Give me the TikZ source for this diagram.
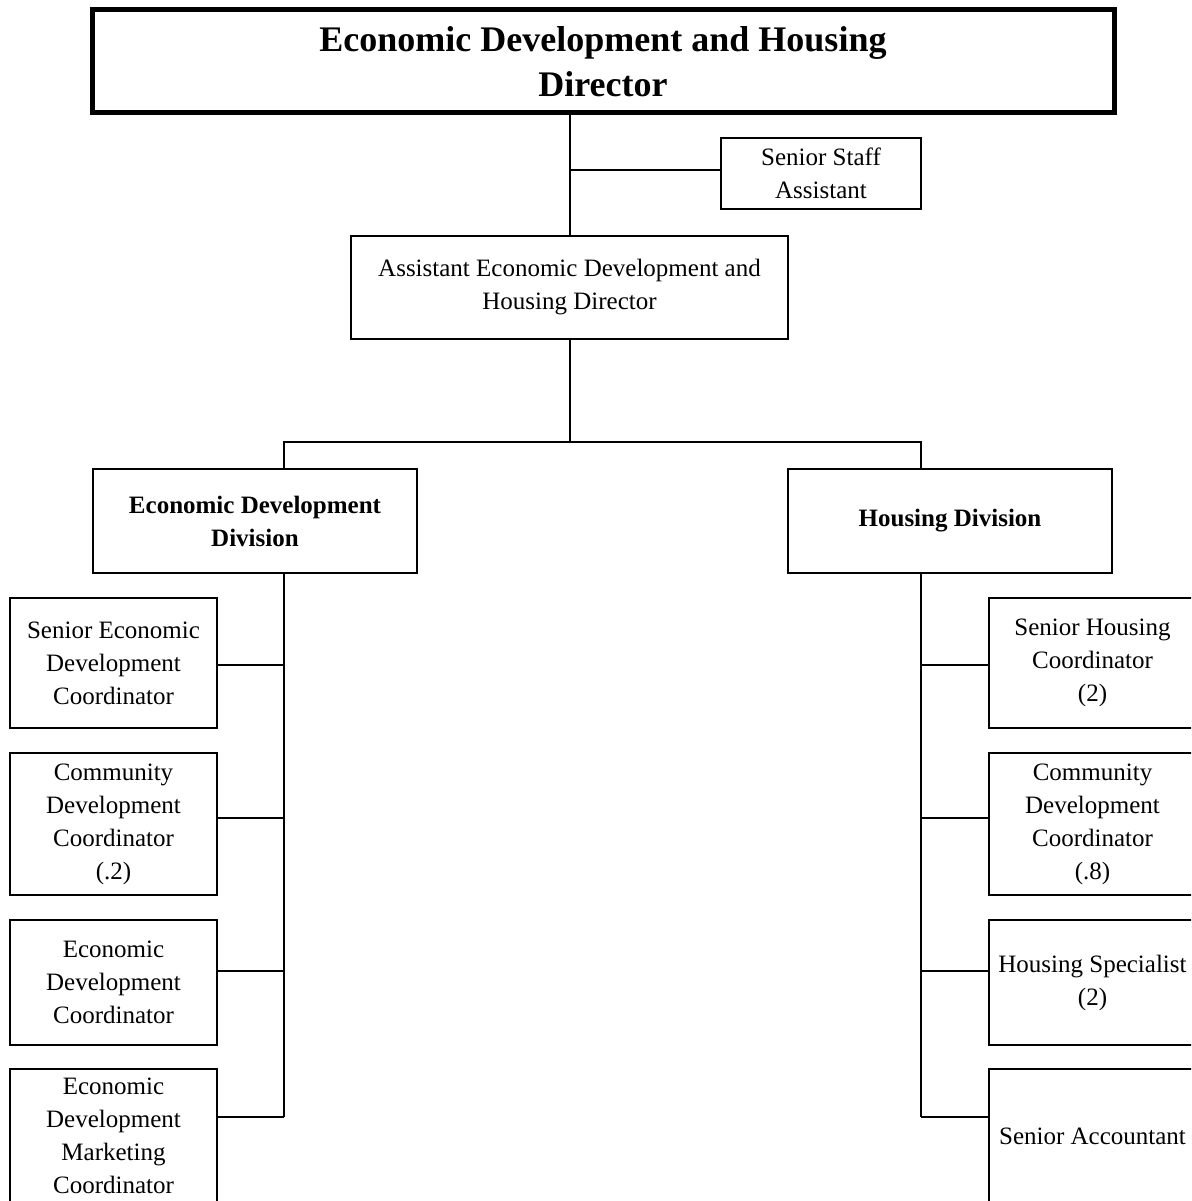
\documentclass[tikz,border=0pt]{standalone}
\usepackage{fontspec}
\setmainfont{Liberation Serif}
\begin{document}
\begin{tikzpicture}[x=1pt, y=-1pt,
    post/.style={draw, line width=2pt, inner sep=0pt, align=center, font=\fontsize{25}{33}\selectfont},
    unit/.style={post, font=\fontsize{25}{33}\selectfont\bfseries},
    staffbox/.style={post, minimum width=207pt},
    link/.style={line width=2pt}]
        \clip (0,0) rectangle (1191,1201);
        \fill[white] (0,0) rectangle (1191,1201);
        %Top of the chart
        \node[post, line width=5pt, minimum width=1022pt, minimum height=103pt, font=\fontsize{36}{45}\selectfont\bfseries] (director) at (603,61.5) {Economic Development and Housing\\Director};
        \node[post, minimum width=200pt, minimum height=71pt] (staff) at (821,173.5) {Senior Staff\\Assistant};
        \node[post, minimum width=437pt, minimum height=103pt] (assistant) at (569.5,287.5) {Assistant Economic Development and\\Housing Director};
        %Divisions
        \node[unit, minimum width=324pt, minimum height=104pt] (edDiv) at (255,521) {Economic Development\\Division};
        \node[unit, minimum width=324pt, minimum height=104pt] (hDiv) at (950,521) {Housing Division};
        %Economic development staff
        \node[staffbox, minimum height=130pt] (ed1) at (113.5,663) {Senior Economic\\Development\\Coordinator};
        \node[staffbox, minimum height=142pt] (ed2) at (113.5,824) {Community\\Development\\Coordinator\\(.2)};
        \node[staffbox, minimum height=125pt] (ed3) at (113.5,982.5) {Economic\\Development\\Coordinator};
        \node[staffbox, minimum height=134pt] (ed4) at (113.5,1136) {Economic\\Development\\Marketing\\Coordinator};
        %Housing staff
        \node[staffbox, minimum height=130pt] (h1) at (1092.5,663) {Senior Housing\\Coordinator\\(2)};
        \node[staffbox, minimum height=142pt] (h2) at (1092.5,824) {Community\\Development\\Coordinator\\(.8)};
        \node[staffbox, minimum height=125pt] (h3) at (1092.5,982.5) {Housing Specialist\\(2)};
        \node[staffbox, minimum height=134pt] (h4) at (1092.5,1136) {Senior Accountant};
        %Lines
        \coordinate (edTrunk) at (284,442);
        \coordinate (hTrunk) at (921,442);
        \draw[link] (assistant.north |- director.south) -- (assistant.north);
        \draw[link] (staff.west |- 0,170) -- (assistant.north |- 0,170);
        \draw[link] (assistant.south) -- (assistant.south |- edTrunk);
        \draw[link] (edTrunk |- edDiv.north) -- (edTrunk) -- (hTrunk) -- (hTrunk |- hDiv.north);
        \draw[link] (edTrunk |- edDiv.south) -- (edTrunk |- 0,1117);
        \draw[link] (hTrunk |- hDiv.south) -- (hTrunk |- 0,1117);
        \foreach \b/\y in {1/665, 2/818, 3/971, 4/1117} {
            \draw[link] (ed\b.east |- 0,\y) -- (edTrunk |- 0,\y);
            \draw[link] (h\b.west |- 0,\y) -- (hTrunk |- 0,\y);
        }
\end{tikzpicture}
\end{document}
